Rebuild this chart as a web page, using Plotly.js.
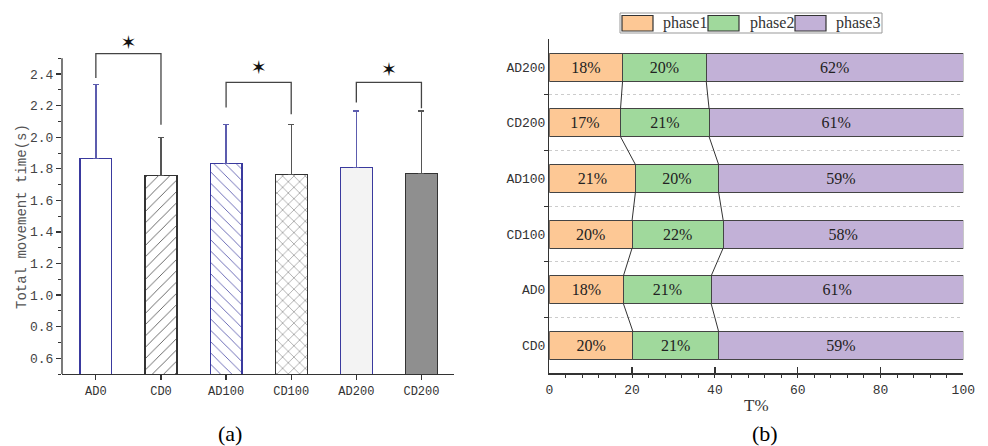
<!DOCTYPE html>
<html><head><meta charset="utf-8">
<script src="https://cdn.plot.ly/plotly-3.0.1.min.js"></script>
<style>html,body{margin:0;padding:0;background:#fff}</style>
</head><body>
<div id="chart" style="width:988px;height:446px"></div>
<script>
// ---------- Panel (a) data ----------
const groupsA = ['AD0', 'CD0', 'AD100', 'CD100', 'AD200', 'CD200'];
const posAD = [0, 2, 4];
const posCD = [1, 3, 5];
const meanAD = [1.865, 1.833, 1.810];
const sdAD = [0.467, 0.248, 0.357];
const meanCD = [1.757, 1.764, 1.772];
const sdCD = [0.241, 0.317, 0.395];
// significance brackets (value scale)
const brLeft = [0, 2, 4];
const brRight = [1, 3, 5];
const brTop = [2.529, 2.347, 2.347];
const brLeftEnd = [2.375, 2.188, 2.220];
const brRightEnd = [2.079, 2.146, 2.184];
const starY = [2.586, 2.430, 2.419];

// ---------- Panel (b) data ----------
const groupsB = ['CD0', 'AD0', 'CD100', 'AD100', 'CD200', 'AD200'];
const phase1 = [20.2, 17.9, 20.0, 20.8, 17.2, 17.7];
const phase2 = [20.7, 21.2, 22.0, 20.1, 21.4, 20.2];
const phase3 = [59.1, 60.9, 58.0, 59.1, 61.4, 62.1];
const phaseNames = ['phase1', 'phase2', 'phase3'];
const phaseColors = ['#fdc895', '#a0d99c', '#c2b1d7'];

const W = 988, H = 446;
const px = v => v / W, py = v => 1 - v / H;
const monoFont = 'Liberation Mono, DejaVu Sans Mono, monospace';
const serifFont = 'Liberation Serif, DejaVu Serif, serif';
const blue = '#3a3a9e';

// bar styles for panel (a)
const adStyle = [
  {fill: '#ffffff', shape: ''},
  {fill: '#ffffff', shape: '\\'},
  {fill: '#f3f3f3', shape: ''}
];
const cdStyle = [
  {fill: '#ffffff', shape: '/'},
  {fill: '#ffffff', shape: 'x'},
  {fill: '#8f8f8f', shape: ''}
];

const traces = [];
function addBar(x, y, sd, st, lineColor, errColor, patColor) {
  const marker = {color: st.fill, line: {color: lineColor, width: 1.2}};
  if (st.shape) marker.pattern = {shape: st.shape, fgcolor: patColor, fgopacity: 1, bgcolor: st.fill, size: 8, solidity: 0.1, fillmode: 'overlay'};
  traces.push({
    type: 'bar', x: [x], y: [y], width: 0.49, xaxis: 'x', yaxis: 'y', marker: marker,
    error_y: {type: 'data', symmetric: false, array: [sd], arrayminus: [0], color: errColor, thickness: 1.3, width: 3},
    showlegend: false, hoverinfo: 'skip'
  });
}
posAD.forEach((p, i) => addBar(p, meanAD[i], sdAD[i], adStyle[i], blue, '#5c5cae', '#4a4aa6'));
posCD.forEach((p, i) => addBar(p, meanCD[i], sdCD[i], cdStyle[i], '#333333', '#555555', '#444444'));

// brackets
const bx = [], by = [];
for (let i = 0; i < brTop.length; i++) {
  bx.push(brLeft[i], brLeft[i], brRight[i], brRight[i], null);
  by.push(brLeftEnd[i], brTop[i], brTop[i], brRightEnd[i], null);
}
traces.push({type: 'scatter', mode: 'lines', x: bx, y: by, xaxis: 'x', yaxis: 'y',
  line: {color: '#444444', width: 1.3}, showlegend: false, hoverinfo: 'skip', cliponaxis: false});
// stars
traces.push({type: 'scatter', mode: 'text', x: brLeft.map((l, i) => (l + brRight[i]) / 2), y: starY,
  text: starY.map(() => '✶'), textfont: {family: 'DejaVu Sans', size: 19, color: '#111'},
  xaxis: 'x', yaxis: 'y', showlegend: false, hoverinfo: 'skip', cliponaxis: false});

// Panel (b) stacked bars
const yB = groupsB.map((_, i) => i);
[phase1, phase2, phase3].forEach((arr, k) => {
  traces.push({
    type: 'bar', orientation: 'h', y: yB, x: arr, width: 0.5, xaxis: 'x2', yaxis: 'y2',
    name: phaseNames[k],
    marker: {color: phaseColors[k], line: {color: '#444444', width: 1}},
    text: arr.map(v => Math.round(v) + '%'), textposition: 'inside', insidetextanchor: 'middle',
    textfont: {family: serifFont, size: 16, color: '#222'}, constraintext: 'none',
    showlegend: false, hoverinfo: 'skip'
  });
});
// connector lines
const cum1 = phase1.slice();
const cum2 = phase1.map((v, i) => v + phase2[i]);
const cx = [], cy = [];
for (let i = 0; i < groupsB.length - 1; i++) {
  [cum1, cum2].forEach(c => {
    cx.push(c[i], c[i + 1], null);
    cy.push(i + 0.25, i + 0.75, null);
  });
}
traces.push({type: 'scatter', mode: 'lines', x: cx, y: cy, xaxis: 'x2', yaxis: 'y2',
  line: {color: '#333333', width: 1}, showlegend: false, hoverinfo: 'skip'});

// minor ticks
const minorA = [];
for (let k = 0; k <= 20; k++) minorA.push(+(0.5 + k * 0.1).toFixed(2));
const minorB = [];
for (let k = 0; k < groupsB.length - 1; k++) minorB.push(k + 0.5);

// legend (custom swatches)
const legShapes = [
  {type: 'rect', xref: 'paper', yref: 'paper', x0: px(620), x1: px(882), y0: py(33), y1: py(13), line: {color: '#999', width: 1}, fillcolor: 'rgba(0,0,0,0)'}
];
const swX = [622, 708, 795];
const labX = [661, 748, 834];
const legAnn = [];
phaseNames.forEach((n, k) => {
  legShapes.push({type: 'rect', xref: 'paper', yref: 'paper', x0: px(swX[k]), x1: px(swX[k] + 31), y0: py(31), y1: py(15.5),
    fillcolor: phaseColors[k], line: {color: '#333', width: 1.2}});
  legAnn.push({xref: 'paper', yref: 'paper', x: px(labX[k]), y: py(23), xanchor: 'left', yanchor: 'middle', showarrow: false,
    text: n, font: {family: serifFont, size: 16, color: '#333'}});
});

const layout = {
  width: W, height: H,
  margin: {l: 0, r: 0, t: 0, b: 0},
  paper_bgcolor: '#fff', plot_bgcolor: 'rgba(0,0,0,0)',
  barmode: 'stack', bargap: 0,
  showlegend: false, hovermode: false,
  xaxis: {
    domain: [px(62), px(454)], range: [-0.52, 5.5], anchor: 'y',
    tickvals: posAD.concat(posCD).sort((a, b) => a - b), ticktext: groupsA,
    ticks: 'outside', ticklen: 5, tickcolor: '#333', tickwidth: 1.2,
    showline: true, linecolor: '#333', linewidth: 1.3, showgrid: false, zeroline: false,
    tickfont: {family: monoFont, size: 12, color: '#333'}
  },
  yaxis: {
    domain: [py(374), py(34.6)], range: [0.5, 2.65], anchor: 'x',
    tickvals: [0.6, 0.8, 1.0, 1.2, 1.4, 1.6, 1.8, 2.0, 2.2, 2.4], tickformat: '.1f',
    ticks: 'outside', ticklen: 5, tickcolor: '#333', tickwidth: 1.2,
    minor: {tickvals: minorA, ticks: 'outside', ticklen: 3, tickcolor: '#333', tickwidth: 1},
    showline: false, showgrid: false, zeroline: false,
    tickfont: {family: monoFont, size: 13, color: '#444'}
  },
  xaxis2: {
    domain: [px(549.3), px(963.3)], range: [0, 100], anchor: 'y2',
    tick0: 0, dtick: 20, ticks: 'inside', ticklen: 6, tickcolor: '#333', tickwidth: 1.2,
    minor: {dtick: 4, ticks: 'outside', ticklen: 3, tickcolor: '#333', tickwidth: 1},
    showline: true, linecolor: '#333', linewidth: 1.3, showgrid: false, zeroline: false,
    ticklabelstandoff: 4,
    tickfont: {family: monoFont, size: 13, color: '#333'},
    title: {text: 'T%', font: {family: serifFont, size: 17, color: '#333'}, standoff: 2}
  },
  yaxis2: {
    domain: [py(373.3), py(39.3)], range: [-0.5, 5.5], anchor: 'x2',
    tickvals: yB, ticktext: groupsB, ticks: '',
    minor: {tickvals: minorB, ticks: 'outside', ticklen: 4, tickcolor: '#333', tickwidth: 1,
      showgrid: true, gridcolor: '#cccccc', griddash: 'dot', gridwidth: 1},
    showline: true, linecolor: '#333', linewidth: 1.3, showgrid: false, zeroline: false,
    tickfont: {family: monoFont, size: 13, color: '#333'}
  },
  shapes: [
    {type: 'line', xref: 'paper', yref: 'y', x0: px(62), x1: px(62), y0: 0.5, y1: 2.5, line: {color: '#333', width: 1.3}}
  ].concat(legShapes),
  annotations: [
    {xref: 'paper', yref: 'paper', x: px(22), y: py(217), xanchor: 'center', yanchor: 'middle', textangle: -90, showarrow: false,
      text: 'Total movement time(s)', font: {family: monoFont, size: 14, color: '#555'}},
    {xref: 'paper', yref: 'paper', x: px(230), y: py(433), xanchor: 'center', yanchor: 'middle', showarrow: false,
      text: '(a)', font: {family: serifFont, size: 22, color: '#000'}},
    {xref: 'paper', yref: 'paper', x: px(765), y: py(433), xanchor: 'center', yanchor: 'middle', showarrow: false,
      text: '(b)', font: {family: serifFont, size: 22, color: '#000'}}
  ].concat(legAnn)
};

Plotly.newPlot('chart', traces, layout, {staticPlot: true, displayModeBar: false});
</script>
</body></html>
